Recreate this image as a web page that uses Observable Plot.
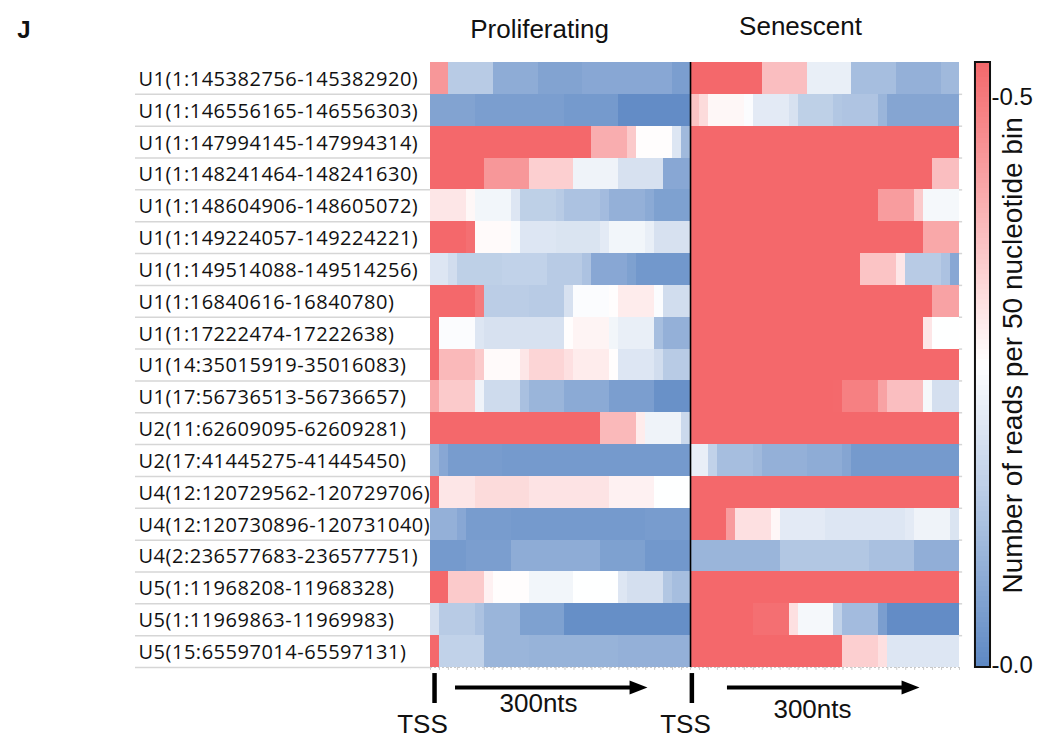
<!DOCTYPE html>
<html>
<head>
<meta charset="utf-8">
<script src="https://cdn.jsdelivr.net/npm/d3@7"></script>
<script src="https://cdn.jsdelivr.net/npm/@observablehq/plot@0.6"></script>
<style>
  body { margin: 0; background: #fff; }
  svg { display: block; }
</style>
</head>
<body>
<div id="chart"></div>
<script>
// ---------------- data ----------------
const rowLabels = [
  "U1(1:145382756-145382920)",
  "U1(1:146556165-146556303)",
  "U1(1:147994145-147994314)",
  "U1(1:148241464-148241630)",
  "U1(1:148604906-148605072)",
  "U1(1:149224057-149224221)",
  "U1(1:149514088-149514256)",
  "U1(1:16840616-16840780)",
  "U1(1:17222474-17222638)",
  "U1(14:35015919-35016083)",
  "U1(17:56736513-56736657)",
  "U2(11:62609095-62609281)",
  "U2(17:41445275-41445450)",
  "U4(12:120729562-120729706)",
  "U4(12:120730896-120731040)",
  "U4(2:236577683-236577751)",
  "U5(1:11968208-11968328)",
  "U5(1:11969863-11969983)",
  "U5(15:65597014-65597131)"
];

const panelTitles = ["Proliferating", "Senescent"];

// reads per 50-nt bin, Proliferating panel (29 sub-bins per row)
const proliferating = [
  [0.45,0.45,0.15,0.15,0.15,0.15,0.15,0.08,0.08,0.08,0.08,0.08,0.06,0.06,0.06,0.06,0.06,0.07,0.07,0.07,0.07,0.07,0.07,0.07,0.07,0.07,0.07,0.05,0.05],
  [0.06,0.06,0.06,0.06,0.06,0.05,0.05,0.05,0.05,0.05,0.05,0.05,0.05,0.05,0.05,0.04,0.04,0.04,0.04,0.04,0.04,0.01,0.01,0.01,0.01,0.01,0.01,0.01,0.01],
  [0.6,0.6,0.6,0.6,0.6,0.6,0.6,0.6,0.6,0.6,0.6,0.6,0.6,0.6,0.6,0.6,0.6,0.55,0.41,0.41,0.41,0.41,0.36,0.27,0.27,0.27,0.27,0.21,0.11],
  [0.6,0.6,0.6,0.6,0.6,0.6,0.45,0.45,0.45,0.45,0.45,0.35,0.35,0.35,0.35,0.35,0.24,0.24,0.24,0.24,0.24,0.2,0.2,0.2,0.2,0.2,0.07,0.07,0.07],
  [0.31,0.31,0.31,0.31,0.28,0.245,0.245,0.245,0.245,0.21,0.16,0.16,0.16,0.16,0.15,0.13,0.13,0.13,0.13,0.115,0.09,0.09,0.09,0.09,0.075,0.055,0.055,0.055,0.055],
  [0.6,0.6,0.6,0.6,0.52,0.275,0.275,0.275,0.275,0.255,0.21,0.21,0.21,0.21,0.205,0.205,0.205,0.205,0.205,0.22,0.245,0.245,0.245,0.245,0.23,0.2,0.2,0.2,0.2],
  [0.21,0.21,0.19,0.16,0.16,0.16,0.16,0.16,0.165,0.165,0.165,0.165,0.165,0.15,0.15,0.15,0.15,0.13,0.07,0.07,0.07,0.07,0.055,0.035,0.035,0.035,0.035,0.035,0.035],
  [0.6,0.6,0.6,0.6,0.6,0.5,0.155,0.155,0.155,0.155,0.155,0.15,0.15,0.15,0.15,0.2,0.26,0.26,0.26,0.26,0.27,0.3,0.3,0.3,0.3,0.26,0.19,0.19,0.19],
  [0.6,0.26,0.26,0.26,0.26,0.21,0.2,0.2,0.2,0.2,0.2,0.2,0.2,0.2,0.2,0.27,0.285,0.285,0.285,0.285,0.245,0.23,0.23,0.23,0.23,0.12,0.09,0.09,0.09],
  [0.58,0.39,0.39,0.39,0.39,0.36,0.275,0.275,0.275,0.275,0.31,0.34,0.34,0.34,0.34,0.32,0.3,0.3,0.3,0.3,0.27,0.21,0.21,0.21,0.21,0.19,0.15,0.15,0.15],
  [0.42,0.36,0.36,0.36,0.36,0.24,0.185,0.185,0.185,0.185,0.125,0.1,0.1,0.1,0.1,0.075,0.075,0.075,0.075,0.075,0.05,0.05,0.05,0.05,0.05,0.02,0.02,0.02,0.02],
  [0.6,0.6,0.6,0.6,0.6,0.6,0.6,0.6,0.6,0.6,0.6,0.6,0.6,0.6,0.6,0.6,0.6,0.6,0.6,0.39,0.39,0.39,0.39,0.3,0.24,0.24,0.24,0.24,0.18],
  [0.1,0.07,0.045,0.045,0.045,0.045,0.045,0.045,0.04,0.04,0.04,0.04,0.04,0.04,0.04,0.04,0.04,0.04,0.04,0.04,0.04,0.04,0.04,0.04,0.04,0.04,0.04,0.04,0.04],
  [0.6,0.31,0.31,0.31,0.31,0.33,0.33,0.33,0.33,0.33,0.33,0.315,0.315,0.315,0.315,0.315,0.315,0.315,0.315,0.315,0.29,0.29,0.29,0.29,0.29,0.265,0.265,0.265,0.265],
  [0.09,0.09,0.09,0.07,0.045,0.045,0.045,0.045,0.045,0.04,0.04,0.04,0.04,0.04,0.04,0.04,0.04,0.04,0.04,0.04,0.04,0.04,0.04,0.04,0.045,0.045,0.045,0.045,0.045],
  [0.04,0.04,0.04,0.04,0.05,0.05,0.05,0.05,0.05,0.08,0.08,0.08,0.08,0.08,0.08,0.08,0.08,0.08,0.08,0.055,0.055,0.055,0.055,0.055,0.035,0.035,0.035,0.035,0.035],
  [0.6,0.6,0.36,0.36,0.36,0.36,0.29,0.27,0.27,0.27,0.27,0.245,0.245,0.245,0.245,0.245,0.265,0.265,0.265,0.265,0.265,0.21,0.195,0.195,0.195,0.195,0.14,0.12,0.12],
  [0.195,0.15,0.15,0.15,0.15,0.13,0.1,0.1,0.1,0.1,0.055,0.055,0.055,0.055,0.055,0.015,0.015,0.015,0.015,0.015,0.015,0.015,0.015,0.015,0.015,0.015,0.015,0.015,0.015],
  [0.6,0.165,0.165,0.165,0.165,0.165,0.1,0.1,0.1,0.1,0.1,0.095,0.095,0.095,0.095,0.095,0.095,0.095,0.095,0.095,0.095,0.09,0.09,0.09,0.09,0.09,0.09,0.09,0.09]
];

// reads per 50-nt bin, Senescent panel (30 sub-bins per row)
const senescent = [
  [0.6,0.6,0.6,0.6,0.6,0.6,0.6,0.6,0.38,0.38,0.38,0.38,0.38,0.23,0.23,0.23,0.23,0.23,0.12,0.12,0.12,0.12,0.12,0.09,0.09,0.09,0.09,0.09,0.11,0.11],
  [0.37,0.33,0.28,0.28,0.28,0.28,0.26,0.22,0.22,0.22,0.22,0.2,0.16,0.16,0.16,0.16,0.14,0.135,0.135,0.135,0.135,0.1,0.065,0.065,0.065,0.065,0.065,0.065,0.065,0.065],
  [0.6,0.6,0.6,0.6,0.6,0.6,0.6,0.6,0.6,0.6,0.6,0.6,0.6,0.6,0.6,0.6,0.6,0.6,0.6,0.6,0.6,0.6,0.6,0.6,0.6,0.6,0.6,0.6,0.6,0.6],
  [0.6,0.6,0.6,0.6,0.6,0.6,0.6,0.6,0.6,0.6,0.6,0.6,0.6,0.6,0.6,0.6,0.6,0.6,0.6,0.6,0.6,0.6,0.6,0.6,0.6,0.6,0.6,0.38,0.38,0.38],
  [0.6,0.6,0.6,0.6,0.6,0.6,0.6,0.6,0.6,0.6,0.6,0.6,0.6,0.6,0.6,0.6,0.6,0.6,0.6,0.6,0.6,0.44,0.44,0.44,0.44,0.36,0.25,0.25,0.25,0.25],
  [0.6,0.6,0.6,0.6,0.6,0.6,0.6,0.6,0.6,0.6,0.6,0.6,0.6,0.6,0.6,0.6,0.6,0.6,0.6,0.6,0.6,0.6,0.6,0.6,0.6,0.6,0.42,0.42,0.42,0.42],
  [0.6,0.6,0.6,0.6,0.6,0.6,0.6,0.6,0.6,0.6,0.6,0.6,0.6,0.6,0.6,0.6,0.6,0.6,0.6,0.37,0.37,0.37,0.37,0.31,0.15,0.15,0.15,0.15,0.13,0.07],
  [0.6,0.6,0.6,0.6,0.6,0.6,0.6,0.6,0.6,0.6,0.6,0.6,0.6,0.6,0.6,0.6,0.6,0.6,0.6,0.6,0.6,0.6,0.6,0.6,0.6,0.6,0.6,0.43,0.43,0.43],
  [0.6,0.6,0.6,0.6,0.6,0.6,0.6,0.6,0.6,0.6,0.6,0.6,0.6,0.6,0.6,0.6,0.6,0.6,0.6,0.6,0.6,0.6,0.56,0.56,0.56,0.56,0.31,0.265,0.265,0.265],
  [0.6,0.6,0.6,0.6,0.6,0.6,0.6,0.6,0.6,0.6,0.6,0.6,0.6,0.6,0.6,0.6,0.6,0.6,0.6,0.6,0.6,0.6,0.6,0.6,0.6,0.6,0.6,0.6,0.6,0.6],
  [0.6,0.6,0.6,0.6,0.6,0.6,0.6,0.6,0.6,0.6,0.6,0.6,0.6,0.6,0.6,0.6,0.53,0.49,0.49,0.49,0.49,0.43,0.38,0.38,0.38,0.38,0.25,0.195,0.195,0.195],
  [0.6,0.6,0.6,0.6,0.6,0.6,0.6,0.6,0.6,0.6,0.6,0.6,0.6,0.6,0.6,0.6,0.6,0.6,0.6,0.6,0.6,0.6,0.6,0.6,0.6,0.6,0.6,0.6,0.6,0.6],
  [0.23,0.23,0.165,0.12,0.12,0.12,0.12,0.11,0.09,0.09,0.09,0.09,0.09,0.08,0.08,0.08,0.08,0.065,0.04,0.04,0.04,0.04,0.04,0.04,0.04,0.04,0.04,0.04,0.04,0.04],
  [0.6,0.6,0.6,0.6,0.6,0.6,0.6,0.6,0.6,0.6,0.6,0.6,0.6,0.6,0.6,0.6,0.6,0.6,0.6,0.6,0.6,0.6,0.6,0.6,0.6,0.6,0.6,0.6,0.6,0.6],
  [0.55,0.55,0.55,0.55,0.44,0.32,0.32,0.32,0.32,0.28,0.22,0.22,0.22,0.22,0.22,0.21,0.21,0.21,0.21,0.21,0.21,0.21,0.21,0.21,0.22,0.24,0.24,0.24,0.24,0.205],
  [0.1,0.1,0.1,0.1,0.1,0.1,0.1,0.1,0.1,0.1,0.14,0.14,0.14,0.14,0.14,0.14,0.14,0.14,0.14,0.14,0.125,0.125,0.125,0.125,0.125,0.085,0.085,0.085,0.085,0.085],
  [0.6,0.6,0.6,0.6,0.6,0.6,0.6,0.6,0.6,0.6,0.6,0.6,0.6,0.6,0.6,0.6,0.6,0.6,0.6,0.6,0.6,0.6,0.6,0.6,0.6,0.6,0.6,0.6,0.6,0.6],
  [0.6,0.6,0.6,0.6,0.6,0.6,0.6,0.52,0.52,0.52,0.52,0.32,0.25,0.25,0.25,0.25,0.165,0.115,0.115,0.115,0.115,0.05,0.01,0.01,0.01,0.01,0.01,0.01,0.01,0.01],
  [0.6,0.6,0.6,0.6,0.6,0.6,0.6,0.58,0.58,0.58,0.58,0.58,0.58,0.58,0.58,0.58,0.58,0.35,0.35,0.35,0.35,0.32,0.21,0.21,0.21,0.21,0.21,0.21,0.21,0.21]
];

const colorTicks = [0.5, 0.0];
const colorMax = 0.532;
const colorLabel = "Number of reads per 50 nucleotide bin";
const panelLetter = "J";
const tssLabel = "TSS";
const spanLabel = "300nts";

// ---------------- build ----------------
const nProlif = proliferating[0].length;
const nSen = senescent[0].length;
const nCols = nProlif + nSen;
const nRows = rowLabels.length;

const cells = [];
rowLabels.forEach((label, r) => {
  proliferating[r].forEach((v, k) => cells.push({row: r, col: k, value: v}));
  senescent[r].forEach((v, j) => cells.push({row: r, col: nProlif + j, value: v}));
});

const nSteps = 120;
const steps = d3.range(nSteps);

// annotation layout (in chart units: columns / rows)
const barY1 = nRows + 0.19, barY2 = nRows + 1.13;
const arrowY = nRows + 0.63;
const panelStarts = [0.45, nProlif + 0.15];
const arrows = [
  {id: 0, x1: 2.79, tip: 24.2},
  {id: 1, x1: nProlif + 4.12, tip: nProlif + 25.54}
];
const headLen = 2.0, headHalf = 0.22;
const heads = arrows.flatMap(a => [
  {id: a.id, x: a.tip, y: arrowY},
  {id: a.id, x: a.tip - headLen, y: arrowY - headHalf},
  {id: a.id, x: a.tip - headLen, y: arrowY + headHalf},
  {id: a.id, x: a.tip, y: arrowY}
]);
const cbX1 = nCols + 1.78, cbX2 = nCols + 3.46;

const chart = Plot.plot({
  width: 1040,
  height: 739,
  marginLeft: 430,
  marginRight: 81,
  marginTop: 62,
  marginBottom: 72,
  x: {domain: [0, nCols], axis: null},
  y: {domain: [0, nRows], reverse: true, axis: null},
  color: {
    type: "linear",
    domain: [0, colorMax / 2, colorMax],
    range: ["#5d88c4", "#ffffff", "#f4686b"],
    interpolate: "rgb",
    clamp: true
  },
  style: {fontFamily: "'Liberation Sans', Arial, sans-serif", color: "#111", background: "#fff", overflow: "visible"},
  marks: [
    // heat cells
    Plot.rect(cells, {
      x1: "col", x2: d => d.col + 1,
      y1: "row", y2: d => d.row + 1,
      fill: "value", shapeRendering: "crispEdges"
    }),
    // row separators in the label area
    Plot.ruleY(d3.range(1, nRows + 1), {x1: () => -32.9, x2: () => 0, stroke: "#d6d6d6", strokeWidth: 1.5}),
    Plot.ruleY(d3.range(1, nRows), {x1: () => nCols, x2: () => nCols + 0.35, stroke: "#d6d6d6", strokeWidth: 1.5}),
    // dotted baseline with bin ticks
    Plot.ruleY([nRows], {x1: () => 0, x2: () => nCols, stroke: "#c8c8c8", strokeWidth: 1, strokeDasharray: "2,2"}),
    Plot.ruleX(d3.range(0, nCols + 1), {y1: () => nRows, y2: () => nRows + 0.09, stroke: "#c8c8c8", strokeWidth: 1}),
    // separator between panels
    Plot.ruleX([nProlif], {y1: () => 0, y2: () => nRows, stroke: "#000", strokeWidth: 1.6}),
    // row labels
    Plot.text(rowLabels, {
      x: () => -32.57, y: (d, i) => i + 0.5, text: d => d,
      textAnchor: "start", fontSize: 20, fontFamily: "'Open Sans', sans-serif",
      fill: "#111", dy: 1
    }),
    // panel titles
    Plot.text(panelTitles, {
      x: (d, i) => [12.16, nProlif + 12.27][i],
      y: (d, i) => [-0.754, -0.879][i],
      text: d => d, lineAnchor: "bottom", fontSize: 26, fill: "#111"
    }),
    // panel letter
    Plot.text([panelLetter], {x: () => -46.1, y: () => -0.754, text: d => d, textAnchor: "start",
      lineAnchor: "bottom", fontSize: 24, fontWeight: "bold", fill: "#111"}),
    // colour bar
    Plot.rect(steps, {
      x1: () => cbX1, x2: () => cbX2,
      y1: i => nRows * (1 - (i + 1) / nSteps), y2: i => nRows * (1 - i / nSteps),
      fill: i => colorMax * (i + 0.5) / nSteps, shapeRendering: "crispEdges"
    }),
    Plot.rect([0], {x1: () => cbX1, x2: () => cbX2, y1: () => 0, y2: () => nRows,
      fill: "none", stroke: "#111", strokeWidth: 2}),
    Plot.text(colorTicks, {
      x: () => cbX2 + 0.11, y: v => nRows * (1 - v / colorMax),
      text: v => "-" + v.toFixed(1), textAnchor: "start", fontSize: 24, dy: -2, fill: "#111"
    }),
    Plot.text([colorLabel], {x: () => nCols + 6.0, y: () => 9.2, text: d => d, rotate: -90,
      fontSize: 28, fill: "#111"}),
    // TSS bars
    Plot.ruleX(panelStarts, {y1: () => barY1, y2: () => barY2, stroke: "#000", strokeWidth: 4.5}),
    // arrows
    Plot.ruleY(arrows, {y: () => arrowY, x1: "x1", x2: d => d.tip - headLen + 0.2, stroke: "#000", strokeWidth: 4}),
    Plot.line(heads, {x: "x", y: "y", z: "id", fill: "#000", stroke: "none"}),
    // annotation texts
    Plot.text([spanLabel, spanLabel], {
      x: (d, i) => [12.05, nProlif + 13.6][i],
      y: (d, i) => [nRows + 1.41, nRows + 1.6][i],
      text: d => d, lineAnchor: "bottom", fontSize: 26, fill: "#111"
    }),
    Plot.text([tssLabel, tssLabel], {
      x: (d, i) => [-0.89, nProlif - 0.56][i],
      y: () => nRows + 2.07,
      text: d => d, lineAnchor: "bottom", fontSize: 26, fill: "#111"
    })
  ]
});

// typographic fitting of row labels
d3.select(chart).selectAll("text").each(function () {
  if (rowLabels.includes(this.textContent)) this.setAttribute("letter-spacing", "0.52px");
});

document.getElementById("chart").appendChild(chart);
</script>
</body>
</html>
